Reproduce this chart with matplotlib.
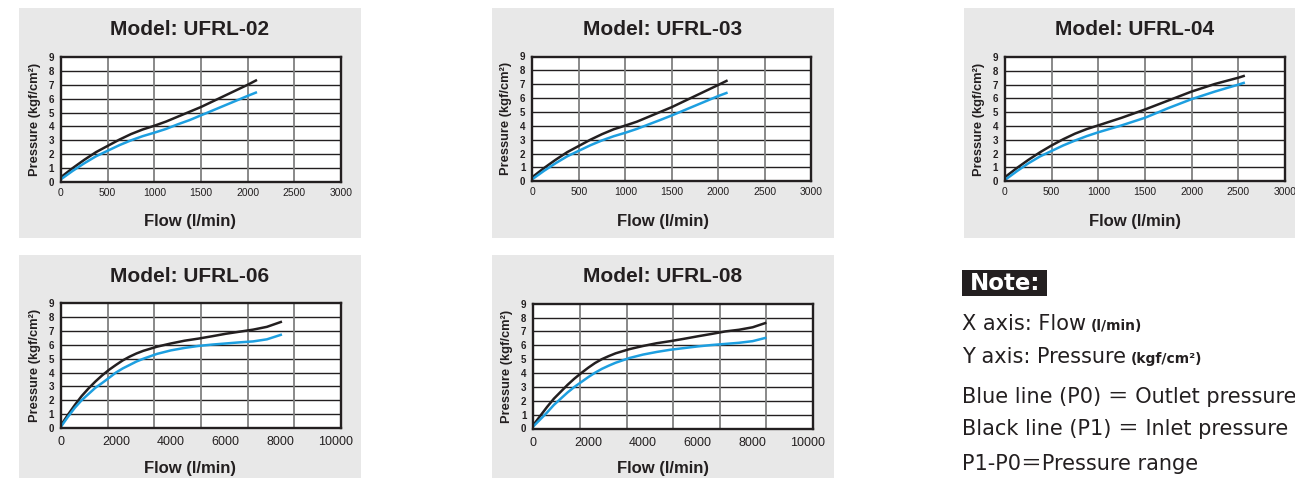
import matplotlib
matplotlib.use("Agg")
import matplotlib.pyplot as plt
from matplotlib.patches import Rectangle
import numpy as np

# ---------------- data ----------------
models = ["UFRL-02", "UFRL-03", "UFRL-04", "UFRL-06", "UFRL-08"]

x02 = [0, 125, 250, 375, 500, 625, 750, 875, 1000, 1125, 1250, 1375, 1500, 1750, 2000, 2100]
black02 = [0.35, 1.0, 1.6, 2.15, 2.6, 3.05, 3.45, 3.78, 4.05, 4.35, 4.7, 5.05, 5.4, 6.2, 7.0, 7.35]
blue02 = [0.2, 0.8, 1.35, 1.85, 2.25, 2.65, 3.0, 3.3, 3.55, 3.82, 4.15, 4.45, 4.8, 5.5, 6.2, 6.47]

x03 = [0, 125, 250, 375, 500, 625, 750, 875, 1000, 1125, 1250, 1375, 1500, 1750, 2000, 2100]
black03 = [0.3, 0.95, 1.55, 2.1, 2.55, 3.0, 3.4, 3.75, 4.02, 4.3, 4.65, 5.0, 5.35, 6.15, 6.95, 7.28]
blue03 = [0.15, 0.75, 1.3, 1.8, 2.2, 2.6, 2.95, 3.25, 3.5, 3.78, 4.1, 4.42, 4.75, 5.45, 6.15, 6.4]

x04 = [0, 125, 250, 375, 500, 625, 750, 875, 1000, 1250, 1500, 1750, 2000, 2250, 2500, 2570]
black04 = [0.3, 0.95, 1.55, 2.1, 2.6, 3.05, 3.45, 3.78, 4.05, 4.6, 5.2, 5.85, 6.5, 7.05, 7.5, 7.65]
blue04 = [0.1, 0.72, 1.3, 1.8, 2.2, 2.6, 2.95, 3.27, 3.55, 4.05, 4.6, 5.3, 5.95, 6.5, 7.0, 7.15]

x06 = [0, 250, 500, 750, 1000, 1250, 1500, 1750, 2000, 2250, 2500, 2750, 3000, 3500, 4000,
       4500, 5000, 5500, 6000, 6500, 7000, 7500, 8050]
black06 = [0.2, 0.95, 1.65, 2.3, 2.85, 3.35, 3.8, 4.2, 4.55, 4.88, 5.15, 5.38, 5.57, 5.87, 6.1,
           6.3, 6.45, 6.62, 6.8, 6.95, 7.1, 7.3, 7.68]
blue06 = [0.1, 0.8, 1.45, 2.0, 2.45, 2.9, 3.25, 3.62, 4.0, 4.3, 4.55, 4.8, 5.0, 5.35, 5.6,
          5.78, 5.92, 6.02, 6.1, 6.18, 6.25, 6.4, 6.75]

x08 = [0, 250, 500, 750, 1000, 1250, 1500, 1750, 2000, 2250, 2500, 2750, 3000, 3500, 4000,
       4500, 5000, 5500, 6000, 6500, 7000, 7500, 8000, 8500]
black08 = [0.25, 0.9, 1.55, 2.15, 2.65, 3.15, 3.6, 4.0, 4.38, 4.72, 5.0, 5.22, 5.42, 5.72, 5.95,
           6.15, 6.3, 6.47, 6.65, 6.82, 7.0, 7.12, 7.3, 7.63]
blue08 = [0.15, 0.65, 1.15, 1.7, 2.15, 2.6, 3.0, 3.35, 3.7, 4.02, 4.3, 4.53, 4.74, 5.08, 5.33,
          5.52, 5.68, 5.8, 5.92, 6.02, 6.1, 6.18, 6.3, 6.55]

xticks_small = [0, 500, 1000, 1500, 2000, 2500, 3000]
xticks_large = [0, 2000, 4000, 6000, 8000, 10000]
yticks = list(range(0, 10))

xlabel_text = "Flow (l/min)"
ylabel_text = "Pressure (kgf/cm²)"

# ---------------- layout ----------------
W, H = 1295, 478
fig = plt.figure(figsize=(W / 100, H / 100), dpi=100)
fig.patch.set_facecolor("white")

BLACK = "#231f20"
BLUE = "#1d9fe0"
GREY_BG = "#e8e8e8"


def fx(px):
    return px / W


def fy(py):
    return 1 - py / H


panels = [
    dict(box=(19, 8, 238), ax=(61, 57, 341, 182), x=x02, bk=black02, bl=blue02,
         xt=xticks_small, xmax=3000, ngrid=None, tfs=7.5, row=0),
    dict(box=(491.7, 8, 238), ax=(532.3, 56.5, 811.3, 181.3), x=x03, bk=black03, bl=blue03,
         xt=xticks_small, xmax=3000, ngrid=None, tfs=7.5, row=0),
    dict(box=(964, 8, 238), ax=(1005, 57, 1285, 181.3), x=x04, bk=black04, bl=blue04,
         xt=xticks_small, xmax=3000, ngrid=None, tfs=7.5, row=0),
    dict(box=(19, 255, 490), ax=(61, 303.3, 341, 428), x=x06, bk=black06, bl=blue06,
         xt=xticks_large, xmax=10200, ngrid=6, tfs=9, row=1),
    dict(box=(491.7, 255, 490), ax=(533.3, 303.7, 813, 428.5), x=x08, bk=black08, bl=blue08,
         xt=xticks_large, xmax=10200, ngrid=6, tfs=9, row=1),
]

BOXW = 342

for name, p in zip(models, panels):
    bx, by0, by1 = p["box"]
    fig.add_artist(Rectangle((fx(bx), fy(by1)), BOXW / W, (by1 - by0) / H,
                             transform=fig.transFigure, facecolor=GREY_BG,
                             edgecolor="none", zorder=-5))
    x0, y0, x1, y1 = p["ax"]
    ax = fig.add_axes([fx(x0), fy(y1), (x1 - x0) / W, (y1 - y0) / H])
    ax.set_facecolor("white")
    ax.set_xlim(0, p["xmax"])
    ax.set_ylim(0, 9)

    ax.set_yticks(yticks)
    ax.set_yticklabels([str(v) for v in yticks], fontsize=7, fontweight="bold",
                       family="Liberation Sans", color=BLACK)
    ax.set_xticks(p["xt"])
    ax.set_xticklabels([str(v) for v in p["xt"]], fontsize=p["tfs"],
                       family="Liberation Sans", color=BLACK)
    ax.tick_params(axis="both", which="both", length=0)
    ax.tick_params(axis="y", pad=5)
    ax.tick_params(axis="x", pad=4 if p["row"] == 0 else 6)

    # grid
    ax.grid(False)
    for v in yticks[1:-1]:
        ax.axhline(v, color=BLACK, lw=1.0, zorder=1)
    if p["ngrid"] is None:
        gx = p["xt"][1:-1]
    else:
        gx = list(np.linspace(0, p["xmax"], p["ngrid"] + 1)[1:-1])
    for v in gx:
        ax.axvline(v, color="#808080", lw=1.3, zorder=1)

    ax.plot(p["x"], p["bk"], color=BLACK, lw=1.8, zorder=3,
            solid_capstyle="butt", solid_joinstyle="round")
    ax.plot(p["x"], p["bl"], color=BLUE, lw=1.8, zorder=3,
            solid_capstyle="butt", solid_joinstyle="round")

    for s in ax.spines.values():
        s.set_color(BLACK)
        s.set_linewidth(1.7)
        s.set_zorder(4)

    cx = bx + 171
    ty = 29.7 if p["row"] == 0 else 276.7
    fig.text(fx(cx), fy(ty), "Model: " + name, ha="center", va="center",
             fontsize=15, fontweight="bold", family="Liberation Sans", color=BLACK)
    ly = 222 if p["row"] == 0 else 469
    fig.text(fx(cx), fy(ly), xlabel_text, ha="center", va="center",
             fontsize=12, fontweight="bold", family="Liberation Sans", color=BLACK)
    fig.text(fx(x0 - 26), fy((y0 + y1) / 2), ylabel_text, ha="center", va="center",
             rotation=90, fontsize=9.3, fontweight="bold", family="Liberation Sans",
             color=BLACK)

# ---------------- note ----------------
fig.add_artist(Rectangle((fx(962.3), fy(295.5)), (1047 - 962.3) / W, 25.5 / H,
                         transform=fig.transFigure, facecolor=BLACK,
                         edgecolor="none", zorder=2))
fig.text(fx(1004.6), fy(283), "Note:", ha="center", va="center", fontsize=16.5,
         fontweight="bold", family="DejaVu Sans", color="white", zorder=3)

renderer = fig.canvas.get_renderer()
FAM = ["DejaVu Sans", "Noto Sans CJK TC"]
NFS = 15


def note_line(y, main, small=None):
    t = fig.text(fx(962.3), fy(y), main, ha="left", va="center", fontsize=NFS,
                 family=FAM, color=BLACK)
    if small:
        bb = t.get_window_extent(renderer=renderer)
        fig.text(bb.x1 / W + 4 / W, fy(y + 2), small, ha="left", va="center",
                 fontsize=10, fontweight="bold", family=FAM, color=BLACK)


note_line(324, "X axis: Flow", "(l/min)")
note_line(357, "Y axis: Pressure", "(kgf/cm²)")
note_line(397, "Blue line (P0) ＝ Outlet pressure")
note_line(429, "Black line (P1) ＝ Inlet pressure")
note_line(464, "P1-P0＝Pressure range")

fig.savefig("out.png", dpi=100, facecolor="white")
